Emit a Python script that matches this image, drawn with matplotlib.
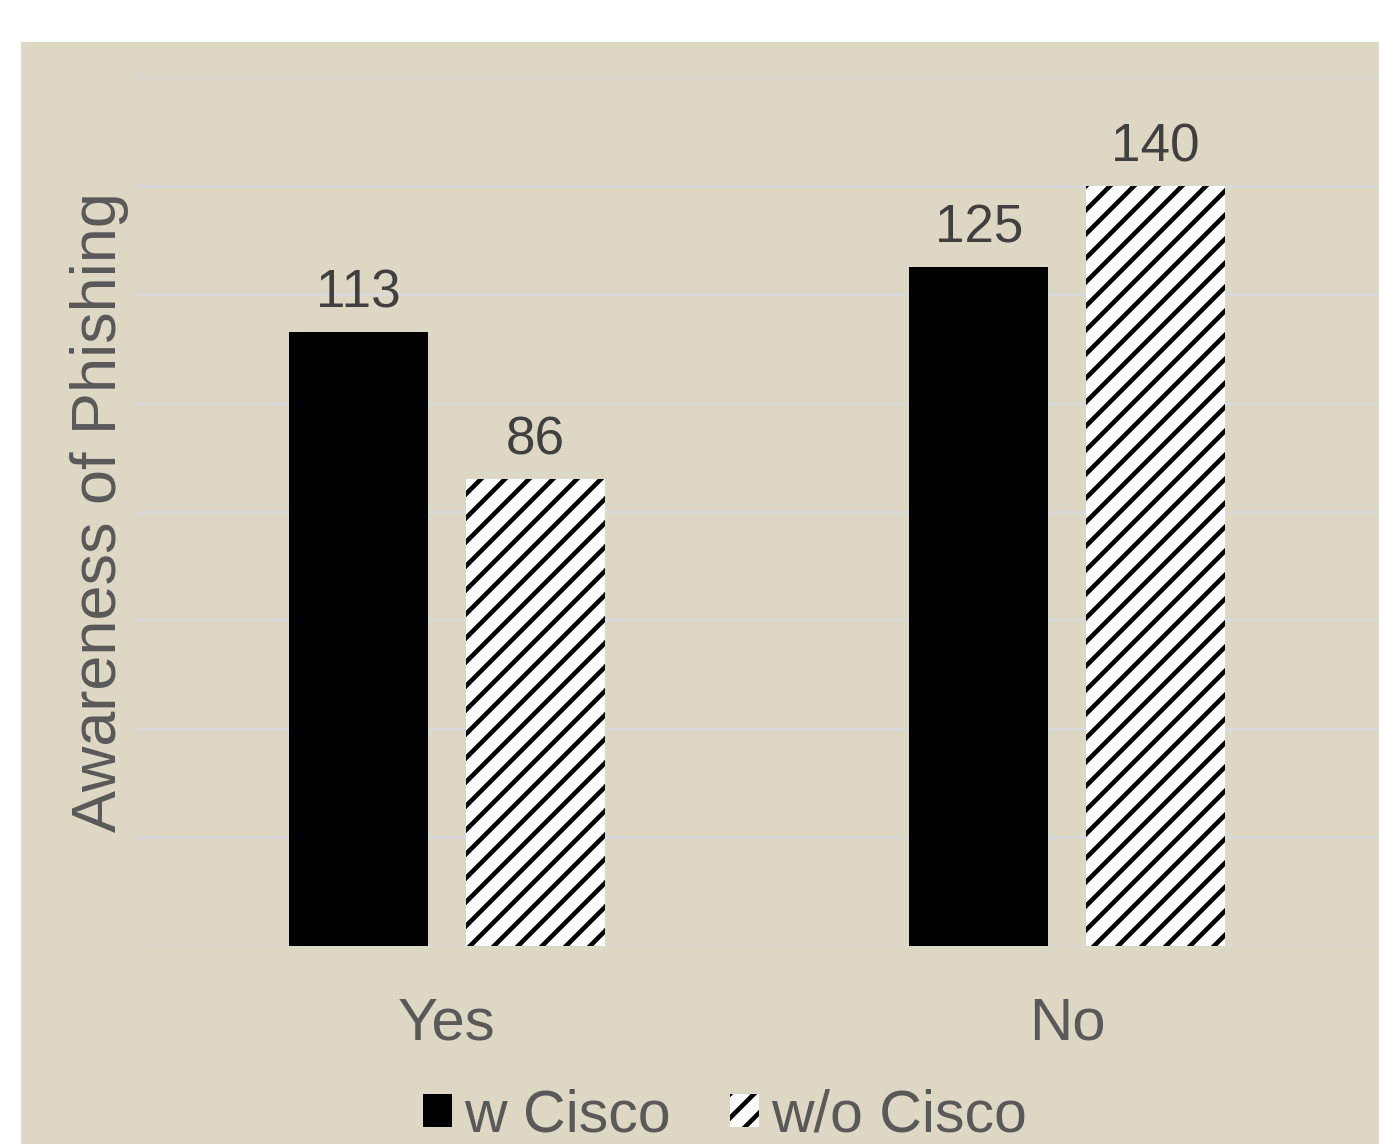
import matplotlib.pyplot as plt
from matplotlib.patches import Rectangle, Patch
import numpy as np

# data
categories = ['Yes', 'No']
series_names = ['w Cisco', 'w/o Cisco']
w_cisco = [113, 125]
wo_cisco = [86, 140]

DPI = 144
plt.rcParams['font.family'] = ['Liberation Sans', 'DejaVu Sans']
plt.rcParams['hatch.linewidth'] = 2.3
plt.rcParams['hatch.color'] = 'black'

def pt(px):
    return px * 72 / DPI

fig = plt.figure(figsize=(1379 / DPI, 1144 / DPI), dpi=DPI, facecolor='white')
# beige chart area
fig.patches.append(Rectangle((21 / 1379, 0), 1 - 21 / 1379, (1144 - 42) / 1144,
                             transform=fig.transFigure, facecolor='#DDD8C3',
                             edgecolor='none', zorder=-10))

ax = fig.add_axes([135 / 1379, (1144 - 946) / 1144, 1 - 135 / 1379, (946 - 77) / 1144])
ax.set_facecolor('none')

x = np.arange(len(categories))
width = 0.224
off = 0.1425

b1 = ax.bar(x - off, w_cisco, width, color='black', edgecolor='none', zorder=3)
b2 = ax.bar(x + off, wo_cisco, width, color='white', edgecolor='black', linewidth=0,
            hatch='//', zorder=3)

for bars, vals in ((b1, w_cisco), (b2, wo_cisco)):
    for r, v in zip(bars, vals):
        ax.text(r.get_x() + r.get_width() / 2, v + 2.5, str(v), ha='center', va='bottom',
                fontsize=pt(53), color='#404040')

ax.set_xlim(-0.503, 1.503)
ax.set_ylim(0, 160)
ax.set_yticks(np.arange(0, 161, 20))
ax.set_yticklabels([])
ax.tick_params(axis='y', length=0)
ax.yaxis.grid(True, color='#D9D9D9', linewidth=pt(3), zorder=0)
ax.set_axisbelow(True)

ax.set_xticks(x)
ax.set_xticklabels(categories, fontsize=pt(60), color='#595959')
ax.tick_params(axis='x', length=0, pad=pt(50))

for s in ax.spines.values():
    s.set_visible(False)

fig.text(100 / 1379, (1144 - 512) / 1144, 'Awareness of Phishing', rotation=90,
         ha='center', va='center', fontsize=pt(63), color='#595959')

handles = [Patch(facecolor='black', edgecolor='none'),
           Patch(facecolor='white', edgecolor='black', linewidth=0, hatch='//')]
leg = fig.legend(handles, series_names, loc='center',
                 bbox_to_anchor=(725 / 1379, (1144 - 1116) / 1144), ncol=2,
                 frameon=False, fontsize=pt(59), handlelength=0.5, handleheight=0.5,
                 handletextpad=0.2, columnspacing=1.0)
for t in leg.get_texts():
    t.set_color('#595959')

fig.savefig('out.png', dpi=DPI, facecolor='white')
